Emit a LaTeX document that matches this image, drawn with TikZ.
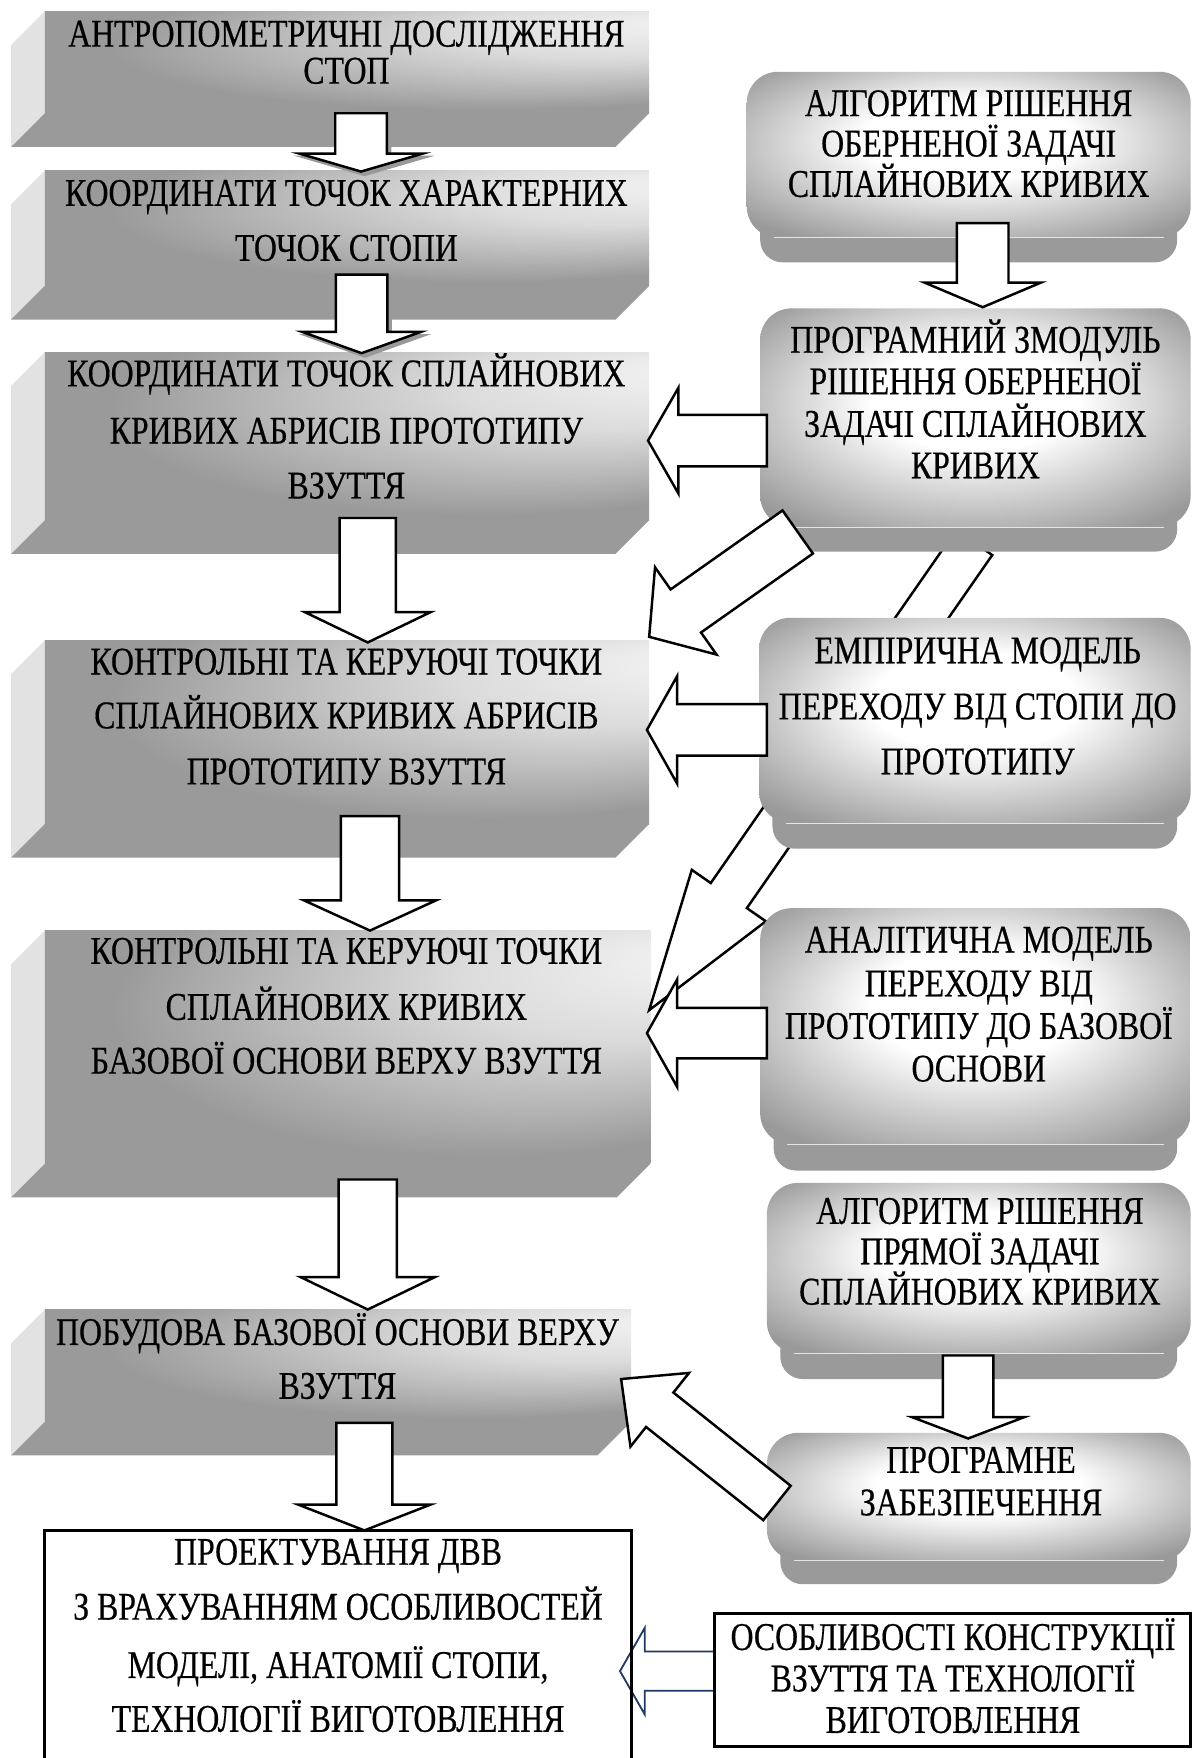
\documentclass[tikz,border=0pt]{standalone}
\usepackage{fontspec}
\setmainfont{Liberation Serif}
\newfontfamily\tnrnarrow[FakeStretch=0.81,FakeBold=0.4]{Liberation Serif}
\usetikzlibrary{calc}
\definecolor{gg}{RGB}{154,154,154}
\definecolor{sideg}{RGB}{226,226,226}
\definecolor{navy}{RGB}{32,56,100}
\pgfdeclareradialshading{lshade}{\pgfpoint{30bp}{20bp}}{color(0bp)=(white!96!black); color(13bp)=(white!86!black); color(31bp)=(gg); color(50bp)=(gg)}
\pgfdeclareradialshading{rshade}{\pgfpoint{0bp}{6bp}}{color(0bp)=(white); color(12bp)=(white); color(33bp)=(gg); color(50bp)=(gg)}
\tikzset{
  lbl/.style={font=\tnrnarrow\fontsize{35}{35}\selectfont, inner sep=0pt, anchor=base},
  blockarrow/.style={draw=black, fill=white, line width=2.2pt, line join=miter},
  plainbox/.style={draw=black, line width=2.5pt}
}
% left 3D box: #1 top, #2 bevel top, #3 right edge, #4 name
\newcommand\lbox[4]{%
  \fill[sideg] (10,#1+30) -- (40,#1) -- (40,#2) -- (10,#2+30) -- cycle;
  \fill[gg] (40,#2) -- (#3,#2) -- (#3-30,#2+30) -- (10,#2+30) -- cycle;
  \shade[shading=lshade] (40,#1) rectangle (#3,#2);
  \coordinate (#4) at (40,#1);
}
% right rounded box: #1 x0, #2 y0, #3 x1, #4 main bottom, #5 ledge bottom, #6 name
\newcommand\rbox[6]{%
  \fill[gg, rounded corners=20pt] (#1+12,#4-30) rectangle (#3-12,#5);
  \shade[shading=rshade, rounded corners=28pt] (#1,#2) rectangle (#3,#4);
  \draw[white!80!gray, line width=0.8pt] (#1+24,#4) -- (#3-24,#4);
  \coordinate (#6) at (#1,#2);
}
% block arrow: #2 tail centre, #3 tip, #4 shaft half width, #5 head half width, #6 head length
\newcommand\barrow[6][]{%
  \coordinate (bah) at ($(#3)!#6pt!(#2)$);
  \draw[blockarrow,#1] ($(#2)!#4pt!90:(#3)$) -- ($(bah)!#4pt!-90:(#2)$)
    -- ($(bah)!#5pt!-90:(#2)$) -- (#3) -- ($(bah)!#5pt!90:(#2)$)
    -- ($(bah)!#4pt!90:(#2)$) -- ($(#2)!#4pt!-90:(#3)$) -- cycle;
}
\begin{document}
\begin{tikzpicture}[x=1pt,y=-1pt]
\useasboundingbox (0,0) rectangle (1066,1568);
\clip (0,0) rectangle (1066,1568);

% ---------- left column boxes
\lbox{10}{101}{579}{B1}
\lbox{152}{255}{579}{B2}
\lbox{314}{464}{579}{B3}
\lbox{571}{735}{579}{B4}
\lbox{830}{1038}{580}{B5}
\lbox{1168}{1268}{563}{B6}

% ---------- long diagonal arrow (behind right boxes)
\coordinate (d2t) at (868.9,483.9);
\coordinate (d2h) at (579,901);
\barrow{d2t}{d2h}{19.6}{40.2}{124.5}

% ---------- right column boxes
\rbox{666}{64}{1062}{212}{234}{R1}
\rbox{678}{275}{1062}{470}{492}{R2}
\rbox{677}{551}{1062}{734}{757}{R3}
\rbox{678}{810}{1062}{1021}{1044}{R4}
\rbox{684}{1055}{1062}{1207}{1230}{R5}
\rbox{684}{1278}{1062}{1392}{1413}{R6}

% ---------- texts, left
\node[lbl] (b1a) at (309,41.6) {АНТРОПОМЕТРИЧНІ ДОСЛІДЖЕННЯ};
\node[lbl] (b1b) at (309,74.6) {СТОП};
\node[lbl] (b2a) at (309,183.6) {КООРДИНАТИ ТОЧОК ХАРАКТЕРНИХ};
\node[lbl] (b2b) at (309,232.6) {ТОЧОК СТОПИ};
\node[lbl] (b3a) at (309,344.6) {КООРДИНАТИ ТОЧОК СПЛАЙНОВИХ};
\node[lbl] (b3b) at (309,395.6) {КРИВИХ АБРИСІВ ПРОТОТИПУ};
\node[lbl] (b3c) at (309,444.6) {ВЗУТТЯ};
\node[lbl] (b4a) at (309,601.6) {КОНТРОЛЬНІ ТА КЕРУЮЧІ ТОЧКИ};
\node[lbl] (b4b) at (309,649.6) {СПЛАЙНОВИХ КРИВИХ АБРИСІВ};
\node[lbl] (b4c) at (309,699.6) {ПРОТОТИПУ ВЗУТТЯ};
\node[lbl] (b5a) at (309,859.6) {КОНТРОЛЬНІ ТА КЕРУЮЧІ ТОЧКИ};
\node[lbl] (b5b) at (309,909.6) {СПЛАЙНОВИХ КРИВИХ};
\node[lbl] (b5c) at (309,957.6) {БАЗОВОЇ ОСНОВИ ВЕРХУ ВЗУТТЯ};
\node[lbl] (b6a) at (301,1199.6) {ПОБУДОВА БАЗОВОЇ ОСНОВИ ВЕРХУ};
\node[lbl] (b6b) at (301,1247.6) {ВЗУТТЯ};

% ---------- texts, right
\node[lbl] (r1a) at (864,103.6) {АЛГОРИТМ РІШЕННЯ};
\node[lbl] (r1b) at (864,139.6) {ОБЕРНЕНОЇ ЗАДАЧІ};
\node[lbl] (r1c) at (864,175.6) {СПЛАЙНОВИХ КРИВИХ};
\node[lbl] (r2a) at (870,314.6) {ПРОГРАМНИЙ ЗМОДУЛЬ};
\node[lbl] (r2b) at (870,351.6) {РІШЕННЯ ОБЕРНЕНОЇ};
\node[lbl] (r2c) at (870,389.6) {ЗАДАЧІ СПЛАЙНОВИХ};
\node[lbl] (r2d) at (870,426.6) {КРИВИХ};
\node[lbl] (r3a) at (872,591.6) {ЕМПІРИЧНА МОДЕЛЬ};
\node[lbl] (r3b) at (872,641.6) {ПЕРЕХОДУ ВІД СТОПИ ДО};
\node[lbl] (r3c) at (872,690.6) {ПРОТОТИПУ};
\node[lbl] (r4a) at (873,849.6) {АНАЛІТИЧНА МОДЕЛЬ};
\node[lbl] (r4b) at (873,888.6) {ПЕРЕХОДУ ВІД};
\node[lbl] (r4c) at (873,926.6) {ПРОТОТИПУ ДО БАЗОВОЇ};
\node[lbl] (r4d) at (873,964.6) {ОСНОВИ};
\node[lbl] (r5a) at (874,1091.6) {АЛГОРИТМ РІШЕННЯ};
\node[lbl] (r5b) at (874,1127.6) {ПРЯМОЇ ЗАДАЧІ};
\node[lbl] (r5c) at (874,1163.6) {СПЛАЙНОВИХ КРИВИХ};
\node[lbl] (r6a) at (875,1313.6) {ПРОГРАМНЕ};
\node[lbl] (r6b) at (875,1351.6) {ЗАБЕЗПЕЧЕННЯ};

% ---------- arrow end points
\coordinate (a1t) at (322,101);   \coordinate (a1h) at (322,153);
\coordinate (a2t) at (322.5,245); \coordinate (a2h) at (322.5,315);
\coordinate (a3t) at (328,462);   \coordinate (a3h) at (328,573);
\coordinate (a4t) at (330,728);   \coordinate (a4h) at (330,830);
\coordinate (a5t) at (328,1052);  \coordinate (a5h) at (328,1168);
\coordinate (a6t) at (325,1269);  \coordinate (a6h) at (325,1365);
\coordinate (r12t) at (876.5,199); \coordinate (r12h) at (876.5,274);
\coordinate (r56t) at (863.5,1209); \coordinate (r56h) at (863.5,1283);
\coordinate (l1t) at (684,393);   \coordinate (l1h) at (578,393);
\coordinate (l2t) at (684,651);   \coordinate (l2h) at (577,651);
\coordinate (l3t) at (684,921.5); \coordinate (l3h) at (577,921.5);
\coordinate (d1t) at (711.5,474.5); \coordinate (d1h) at (579,568);
\coordinate (ut) at (693,1340.5); \coordinate (uh) at (554,1230);
\coordinate (bt) at (637,1490.5); \coordinate (bh) at (553,1490.5);

% shadows of the two top arrows
\begin{scope}[transform canvas={shift={(3pt,-3pt)}}]
  \barrow[fill=black!40, draw=black!40]{a1t}{a1h}{23}{55}{16}
  \barrow[fill=black!40, draw=black!40]{a2t}{a2h}{23}{53}{19}
\end{scope}

% ---------- block arrows
\barrow{a1t}{a1h}{23}{55}{16}
\barrow{a2t}{a2h}{23}{53}{19}
\barrow{a3t}{a3h}{25}{56}{27}
\barrow{a4t}{a4h}{26}{59}{27}
\barrow{a5t}{a5h}{26}{60}{29}
\barrow{a6t}{a6h}{25}{59}{23}
\barrow{r12t}{r12h}{23}{52}{22}
\barrow{r56t}{r56h}{22.5}{50}{19}
\barrow{l1t}{l1h}{23}{47}{27}
\barrow{l2t}{l2h}{23}{48}{27}
\barrow{l3t}{l3h}{22.5}{48}{27}
\barrow{d1t}{d1h}{23.5}{47.6}{40}
\barrow{ut}{uh}{19.6}{42}{44}
\barrow[draw=navy, line width=1.6pt]{bt}{bh}{17.5}{38.5}{22}

% ---------- plain boxes
\draw[plainbox] (40,1365) rectangle (563,1620);
\coordinate (B7) at (40,1365);
\node[lbl] (b7a) at (301.5,1395.6) {ПРОЕКТУВАННЯ ДВВ};
\node[lbl] (b7b) at (301.5,1444.6) {З ВРАХУВАННЯМ ОСОБЛИВОСТЕЙ};
\node[lbl] (b7c) at (301.5,1496.6) {МОДЕЛІ, АНАТОМІЇ СТОПИ,};
\node[lbl] (b7d) at (301.5,1544.6) {ТЕХНОЛОГІЇ ВИГОТОВЛЕННЯ};

\draw[plainbox] (637,1439) rectangle (1062,1558);
\coordinate (OB) at (637,1439);
\node[lbl] (o1) at (850,1471.6) {ОСОБЛИВОСТІ КОНСТРУКЦІЇ};
\node[lbl] (o2) at (850,1508.6) {ВЗУТТЯ ТА ТЕХНОЛОГІЇ};
\node[lbl] (o3) at (850,1545.6) {ВИГОТОВЛЕННЯ};
\end{tikzpicture}
\end{document}
